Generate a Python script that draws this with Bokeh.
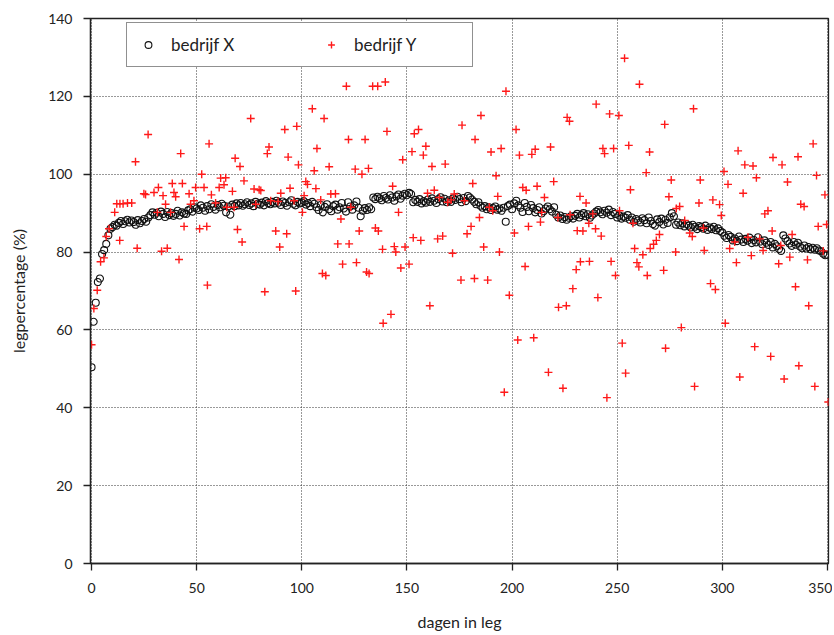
from bokeh.plotting import figure
from bokeh.models import Range1d, FixedTicker, Legend, LegendItem
from bokeh.embed import file_html
from bokeh.resources import INLINE

# ---- data ----
x_ticks = [0, 50, 100, 150, 200, 250, 300, 350]
y_ticks = [0, 20, 40, 60, 80, 100, 120, 140]

days_x = list(range(0, 351))
pct_x = [
    50.4, 62.1, 67.0, 72.3, 73.2, 79.5, 80.5, 82.1, 84.3, 86.0,
    86.4, 87.0, 86.8, 87.5, 88.0, 87.2, 87.9, 88.3, 87.6, 88.1,
    87.7, 87.0, 88.2, 87.4, 88.0, 88.5, 87.8, 88.9, 89.5, 90.2,
    89.6, 90.1, 89.2, 90.4, 89.8, 89.0, 90.3, 89.5, 90.0, 89.3,
    89.8, 90.6, 89.4, 90.2, 89.9, 89.8, 90.7, 91.0, 90.4, 91.5,
    91.2, 90.8, 92.0, 91.4, 90.6, 91.8, 91.0, 92.3, 91.6, 90.9,
    92.1, 91.5, 92.4, 91.9, 90.2, 91.7, 89.6, 92.2, 91.8, 92.5,
    92.0, 92.6, 91.9, 92.3, 92.8, 92.1, 92.5, 91.8, 92.9, 92.4,
    92.2, 92.7, 92.0, 93.1, 92.6, 92.3, 92.9, 92.5, 93.2, 92.7,
    92.1, 93.0, 92.6, 91.9, 92.8, 93.3, 92.4, 92.0, 92.9, 92.5,
    92.7, 93.1, 92.2, 92.6, 91.8, 92.9, 92.4, 91.5, 90.8, 92.1,
    90.2, 91.6, 92.3, 91.0, 90.5, 91.8, 92.2, 90.9, 91.5, 92.6,
    91.2, 90.4, 92.8, 91.7, 90.9, 92.0, 93.0, 91.4, 89.2, 90.6,
    91.3, 90.8, 91.5, 91.0, 94.0, 93.6, 94.2, 93.8, 93.3, 94.4,
    93.9, 93.5, 94.6, 94.0, 93.2, 94.3, 94.8, 93.7, 94.5, 95.0,
    94.6, 95.2, 94.9, 92.8, 93.4, 92.9, 93.6, 92.5, 93.1, 92.7,
    93.5, 92.9, 93.8, 93.2, 92.6, 93.6, 94.1, 93.0, 93.7, 92.8,
    93.3, 92.9, 93.8, 93.4, 94.2, 93.6, 92.8, 93.9, 93.1, 94.4,
    94.0, 93.5, 92.9, 92.3, 92.8, 91.9, 91.4, 91.8, 91.0, 91.5,
    90.8, 91.3, 91.7, 90.9, 91.2, 90.6, 91.4, 87.8, 91.8, 92.2,
    91.0, 92.5, 93.2, 92.0, 91.4, 90.3, 92.6, 91.6, 90.5, 92.1,
    91.3, 90.2, 90.8, 91.5, 89.9, 90.5, 91.2, 91.7, 91.0, 90.4,
    91.5, 89.6, 88.9, 89.4, 88.5, 89.0, 88.3, 88.8, 89.2, 88.6,
    89.3, 89.8, 88.9, 89.5, 90.0, 89.2, 89.7, 88.8, 89.4, 89.9,
    90.4, 90.8, 90.2, 89.7, 90.6, 90.1, 90.9, 89.5, 90.3, 89.8,
    88.9, 89.4, 88.6, 89.1, 88.8, 89.5, 88.3, 88.9, 87.8, 88.5,
    88.1, 87.6, 88.7, 88.2, 87.4, 88.9, 88.0, 87.2, 86.8, 88.4,
    87.7, 88.6, 87.1, 88.3, 87.5, 88.9, 90.0, 89.2, 87.0, 87.6,
    86.9, 87.4, 86.6, 87.2, 86.8, 86.3, 87.0, 86.5, 85.9, 86.7,
    86.4, 86.0, 86.8, 85.7, 86.3, 85.9, 86.5, 85.6, 86.1, 85.4,
    85.0, 84.2, 83.6, 84.4, 83.9, 83.0, 83.5, 82.8, 84.0, 83.2,
    82.6, 83.4, 82.9, 83.7, 82.3, 83.1, 82.5, 83.8, 82.7, 82.0,
    83.0, 82.4, 81.8, 82.6, 81.2, 82.1, 81.5, 80.8, 80.3, 84.3,
    83.5, 82.8, 82.2, 81.6, 82.6, 81.9, 82.4, 81.4, 81.0, 81.7,
    80.9, 81.3, 80.7, 81.1, 80.6, 81.0, 80.4, 80.2, 79.6, 79.2,
    79.3,
]

days_y = [
    0.0, 1.1, 2.7, 4.3, 5.9, 7.0, 8.3, 11.0, 12.0, 13.4, 13.5, 15.0, 17.1, 19.1,
    20.9, 21.7, 24.9, 25.7, 26.9, 29.7, 31.3, 31.8, 33.3, 34.0, 35.2, 36.0, 37.6,
    38.4, 39.2, 40.0, 41.6, 42.4, 43.2, 44.0, 46.4, 47.1, 48.7, 49.5, 51.4, 52.4,
    53.5,
    54.8, 55.1, 55.9, 57.0, 59.0, 60.7, 61.4, 63.0, 63.8, 64.3, 67.0, 67.8, 68.3,
    69.4, 70.6, 71.6, 72.5, 75.7, 77.3, 78.1, 79.7, 80.5, 82.4, 83.6, 84.4, 85.2,
    87.6, 88.7, 89.5, 90.0, 91.9, 92.8, 93.5, 94.4, 96.3, 97.1, 97.6, 98.4, 100.3,
    101.1, 101.9, 102.7, 105.0, 105.9, 106.7, 107.2, 109.0, 109.8, 110.6, 111.4,
    113.0, 113.8,
    116.0, 117.1, 118.6, 119.4, 121.2, 122.2, 122.5, 123.3, 125.4, 126.0, 127.3,
    128.6, 130.1, 130.8, 131.7, 132.0, 133.7, 135.0, 136.1, 136.4, 138.4, 138.7,
    139.7, 140.5, 142.4, 143.2, 144.0, 144.7, 146.0, 147.1, 148.0, 149.1, 151.0,
    152.4, 153.0, 153.5, 155.5, 156.6, 157.8, 159.0, 159.8, 160.9, 161.9, 163.0,
    164.6, 165.4, 167.0, 168.2, 169.4, 171.0, 171.7, 172.5,
    175.7, 176.2, 177.3, 178.6, 180.5, 181.3, 182.1, 182.4, 184.5, 185.2, 186.5,
    188.4, 189.2, 190.0, 190.8, 192.4, 193.2, 194.0, 194.8, 196.3, 197.1, 198.7,
    201.1, 201.9, 202.7, 203.5, 205.1, 206.2, 206.7, 207.8, 209.4, 210.3, 211.0,
    211.9, 213.5, 214.1, 215.4, 217.3, 218.3, 219.8, 221.8, 222.1, 224.2, 225.8,
    226.2, 227.3, 227.6, 228.9, 230.5, 231.0, 232.5, 232.3,
    233.7, 235.2, 236.5, 236.8, 238.4, 239.7, 240.0, 240.8, 242.4, 243.2, 244.0,
    245.1, 246.4, 247.1, 248.3, 249.2, 250.8, 251.1, 252.4, 253.5, 254.0, 255.5,
    256.3, 257.5, 258.3, 259.4, 260.3, 260.6, 262.2, 263.8, 264.3, 265.4, 265.7,
    267.3, 268.6, 270.1, 272.1, 272.6, 273.0, 274.6, 275.7, 277.8, 278.1, 279.7,
    280.5, 282.1, 284.5, 285.7, 286.3, 286.8, 288.9, 289.5, 291.0, 291.4,
    294.4, 295.5, 296.7, 298.7, 299.5, 300.8, 301.4, 302.7, 303.5, 305.9, 306.7,
    307.5, 308.3, 309.9, 310.7, 312.2, 313.8, 314.6, 315.4, 316.2, 317.8, 319.4,
    320.2, 321.7, 323.0, 323.7, 324.1, 326.8, 327.8, 328.4, 329.4, 331.0, 332.1,
    333.2, 334.8, 336.0, 336.4, 337.3, 338.9, 340.5, 341.1, 343.2, 344.0, 344.8,
    345.6, 348.0, 348.8, 349.6, 350.4,
]
pct_y = [
    56.2, 65.5, 70.2, 77.5, 78.5, 84.0, 86.0, 90.2, 92.4, 83.0, 92.4, 92.4, 92.6, 92.6,
    103.2, 81.0, 95.0, 94.8, 110.2, 95.3, 90.2, 96.6, 80.2, 94.5, 92.3, 81.0, 90.2,
    97.6, 95.3, 94.2, 78.1, 105.3, 97.6, 86.6, 95.0, 92.3, 93.2, 96.6, 86.0, 100.0,
    96.6,
    86.6, 71.5, 107.8, 94.7, 92.6, 96.6, 99.0, 97.3, 99.1, 91.5, 95.6, 91.5, 104.1,
    85.8, 102.0, 82.6, 98.3, 114.3, 96.2, 92.3, 96.0, 95.8, 69.8, 105.3, 107.0, 93.2,
    85.4, 93.0, 81.3, 95.1, 111.5, 84.7, 104.4, 96.4, 93.2, 70.0, 112.3, 102.4, 90.2,
    94.5, 98.1, 97.4, 116.8, 100.9, 96.3, 106.6, 93.4, 74.5, 114.3, 74.0,
    101.9, 94.9,
    95.0, 82.1, 88.5, 76.9, 122.6, 108.9, 82.1, 91.5, 101.3, 77.3, 85.4,
    100.0, 108.9, 74.9, 101.5, 74.5, 122.6, 86.2, 122.6, 85.4, 80.7, 61.7,
    123.7, 111.0, 64.0, 96.9, 81.4, 80.0, 90.2, 75.9, 103.7, 81.3, 76.9,
    105.8, 83.7, 110.4, 111.5, 83.0, 104.9, 107.2, 95.1, 66.2, 102.0, 95.9,
    83.4, 94.0, 84.1, 102.6, 92.8, 93.4, 79.7, 94.9,
    72.8, 112.6, 93.2, 84.7, 86.6, 97.6, 73.2, 108.9, 88.9, 115.1, 81.3,
    72.8, 91.5, 105.7, 90.6, 99.6, 94.3, 80.0, 106.6, 44.0, 121.3, 68.9,
    84.9, 111.5, 57.4, 104.9, 96.6, 76.3, 95.9, 86.6, 105.1, 58.0, 106.4,
    96.9, 87.7, 90.2, 94.0, 49.1, 107.0, 98.1, 88.9, 65.8, 45.0, 66.2,
    114.6, 113.6, 89.6, 70.6, 75.5, 85.5, 77.5, 94.3,
    85.4, 92.6, 87.4, 77.6, 89.8, 86.0, 118.0, 68.3, 84.1, 106.6, 105.3,
    42.6, 115.5, 77.6, 106.6, 74.0, 115.1, 90.6, 56.6, 129.8, 48.9, 107.4,
    96.0, 87.4, 80.9, 77.3, 76.2, 123.1, 79.3, 100.4, 74.0, 105.7, 80.9,
    82.0, 83.0, 84.5, 75.3, 112.8, 55.3, 94.2, 98.5, 80.0, 91.2, 91.7,
    60.6, 88.1, 84.9, 84.0, 116.8, 45.5, 92.6, 98.5, 86.2, 80.4,
    71.9, 93.4, 70.4, 92.2, 89.4, 100.7, 61.7, 97.4, 80.9, 82.6, 77.3,
    106.0, 47.9, 95.1, 102.4, 83.8, 79.1, 102.1, 55.7, 99.1, 83.4, 80.4,
    89.8, 90.6, 53.2, 85.4, 104.3, 77.0, 81.7, 102.4, 47.4, 98.0, 78.7,
    84.5, 71.1, 104.5, 50.8, 92.3, 91.7, 78.0, 66.2, 107.8, 45.5, 99.7,
    86.6, 80.3, 94.7, 87.1, 41.5,
]

label_x = "dagen in leg"
label_y = "legpercentage (%)"
name_x = "bedrijf X"
name_y = "bedrijf Y"

FONT = "Lato"

p = figure(width=832, height=633, output_backend="svg", toolbar_location=None,
           x_range=Range1d(-0.5, 350.5), y_range=Range1d(0, 140),
           min_border_left=90, min_border_right=4, min_border_top=18,
           min_border_bottom=69)
p.background_fill_color = "white"
p.border_fill_color = "white"
p.outline_line_color = "#222222"
p.outline_line_width = 1.3

for ax, ticks in ((p.xaxis[0], x_ticks), (p.yaxis[0], y_ticks)):
    ax.ticker = FixedTicker(ticks=ticks)
    ax.major_tick_out = 7
    ax.major_tick_in = 0
    ax.minor_tick_out = 0
    ax.minor_tick_in = 0
    ax.axis_line_color = "#222222"
    ax.axis_line_width = 1.3
    ax.major_tick_line_color = "#222222"
    ax.major_tick_line_width = 1.3
    ax.major_label_text_font = FONT
    ax.major_label_text_font_size = "14px"
    ax.major_label_text_color = "#222222"
    ax.axis_label_text_font = FONT
    ax.axis_label_text_font_size = "16px"
    ax.axis_label_text_font_style = "normal"
    ax.axis_label_text_color = "#222222"

p.xaxis.axis_label = label_x
p.yaxis.axis_label = label_y
p.xaxis.major_label_standoff = 12
p.xaxis.axis_label_standoff = 16
p.yaxis.major_label_standoff = 11
p.yaxis.axis_label_standoff = 17

for dim, ticks in ((p.xgrid[0], x_ticks), (p.ygrid[0], y_ticks)):
    dim.ticker = FixedTicker(ticks=ticks)
    dim.grid_line_color = "#333333"
    dim.grid_line_dash = "1 2"
    dim.grid_line_width = 1

r1 = p.scatter(days_x, pct_x, marker="circle", size=7, fill_color=None,
               line_color="#111111", line_width=1.1)
r2 = p.scatter(days_y, pct_y, marker="cross", size=8, line_color="#ff1a1a",
               line_width=1.4)

legend = Legend(items=[LegendItem(label=name_x, renderers=[r1]),
                       LegendItem(label=name_y, renderers=[r2])],
                orientation="horizontal", location=(36, 496), padding=11,
                spacing=43, label_standoff=13, glyph_width=20, glyph_height=17,
                label_width=107, label_height=17, label_text_font=FONT,
                label_text_font_size="17px", label_text_color="#222222",
                border_line_color="#222222", border_line_width=1.3,
                background_fill_color="white", background_fill_alpha=1.0, margin=0)
p.add_layout(legend)

open("out.html", "w").write(file_html(p, INLINE))
